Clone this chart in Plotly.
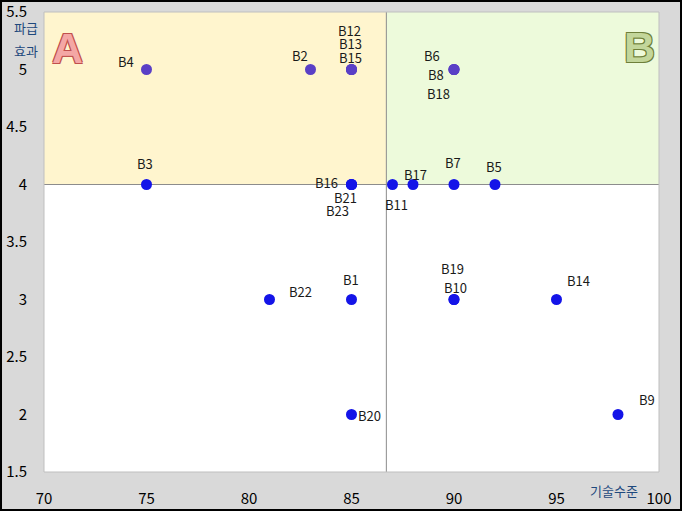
import plotly.graph_objects as go

# ---- data ----
labels = ["B1", "B2", "B3", "B4", "B5", "B6", "B7", "B8", "B9", "B10", "B11", "B12",
          "B13", "B14", "B15", "B16", "B17", "B18", "B19", "B20", "B21", "B22", "B23"]
tech_level = [85, 83, 75, 75, 92, 90, 90, 90, 98, 90, 87, 85,
              85, 95, 85, 85, 88, 90, 90, 85, 85, 81, 85]
impact = [3, 5, 4, 5, 4, 5, 4, 5, 2, 3, 4, 5,
          5, 3, 5, 4, 4, 5, 3, 2, 4, 3, 4]
x_ticks = [70, 75, 80, 85, 90, 95, 100]
y_ticks = [1.5, 2, 2.5, 3, 3.5, 4, 4.5, 5, 5.5]
x_split = 86.7
y_split = 4

# label pixel offsets (style only)
label_offsets = [(-1, -20), (-11, -14), (-2, -21), (-21, -8), (-1, -18), (-22, -14), (-1, -22),
                 (-18, 5), (29, -15), (1, -12), (4, 20), (-2, -39), (-1, -26), (22, -19),
                 (-1, -12), (-25, -2), (2, -10), (-16, 24), (-2, -31), (18, 1), (-6, 13),
                 (31, -8), (-14, 26)]

FONT = "Noto Sans CJK KR"
colors = ["#5A3FC6" if v > y_split else "#1414E8" for v in impact]

fig = go.Figure()
fig.add_trace(go.Scatter(
    x=tech_level, y=impact, mode="markers",
    marker=dict(size=11, color=colors, line=dict(width=0)),
    hoverinfo="text", text=labels, showlegend=False,
))

# quadrant shading
fig.add_shape(type="rect", x0=70, x1=x_split, y0=y_split, y1=5.5, layer="below",
              fillcolor="#FFF5CE", line=dict(width=0))
fig.add_shape(type="rect", x0=x_split, x1=100, y0=y_split, y1=5.5, layer="below",
              fillcolor="#EDFADB", line=dict(width=0))
fig.add_shape(type="line", x0=70, x1=100, y0=y_split, y1=y_split, layer="below",
              line=dict(color="#8C8C8C", width=1))
fig.add_shape(type="line", x0=x_split, x1=x_split, y0=1.5, y1=5.5, layer="below",
              line=dict(color="#8C8C8C", width=1))
# plot border
fig.add_shape(type="rect", xref="paper", yref="paper", x0=0, x1=1, y0=0, y1=1,
              line=dict(color="#BFBFBF", width=1))
# outer chart frame
fig.add_shape(type="rect", xref="paper", yref="paper",
              x0=-0.0699, x1=1.0358, y0=-0.0826, y1=1.0239,
              line=dict(color="#000000", width=2))

# point labels
for lab, xv, yv, (dx, dy) in zip(labels, tech_level, impact, label_offsets):
    fig.add_annotation(x=xv, y=yv, text=lab, showarrow=False,
                       xshift=dx, yshift=-dy,
                       font=dict(family=FONT, size=13, color="#1A1A1A"))

# quadrant letters
fig.add_annotation(x=71.17, y=5.19, text="<b>A</b>", showarrow=False,
                   font=dict(family="Liberation Sans", size=43, color="#F4A7A5",
                             shadow="1px 1px 0 #C0504D, -1px -1px 0 #C0504D, 1px -1px 0 #C0504D, -1px 1px 0 #C0504D"))
fig.add_annotation(x=99.07, y=5.2, text="<b>B</b>", showarrow=False,
                   font=dict(family="Liberation Sans", size=43, color="#C3D69B",
                             shadow="1px 1px 0 #6E7F3A, -1px -1px 0 #6E7F3A, 1px -1px 0 #6E7F3A, -1px 1px 0 #6E7F3A"))

# axis titles
fig.add_annotation(xref="paper", yref="paper", x=0, y=1, xshift=-18, yshift=-15,
                   xanchor="center", yanchor="middle",
                   text="파급", showarrow=False,
                   font=dict(family=FONT, size=13, color="#1F497D"))
fig.add_annotation(xref="paper", yref="paper", x=0, y=1, xshift=-18, yshift=-38,
                   xanchor="center", yanchor="middle",
                   text="효과", showarrow=False,
                   font=dict(family=FONT, size=13, color="#1F497D"))
fig.add_annotation(xref="paper", yref="paper", x=0.927, y=0, yshift=-18,
                   xanchor="center", yanchor="middle",
                   text="기술수준", showarrow=False,
                   font=dict(family=FONT, size=13, color="#1F497D"))

fig.update_xaxes(range=[70, 100], tickvals=x_ticks, ticktext=[str(t) for t in x_ticks],
                 showgrid=False, zeroline=False, showline=False, automargin=False,
                 ticks="outside", ticklen=13, tickcolor="rgba(0,0,0,0)",
                 tickfont=dict(family=FONT, size=15, color="#000000"))
fig.update_yaxes(range=[1.5, 5.5], tickvals=y_ticks, ticktext=[str(t) for t in y_ticks],
                 showgrid=False, zeroline=False, showline=False, automargin=False,
                 ticks="outside", ticklen=13, tickcolor="rgba(0,0,0,0)",
                 tickfont=dict(family=FONT, size=15, color="#000000"))

fig.update_layout(
    width=682, height=511,
    margin=dict(l=44, r=23, t=12, b=39, autoexpand=False),
    paper_bgcolor="#D9D9D9", plot_bgcolor="#FFFFFF",
    showlegend=False,
)

fig.write_html(
    "out.html",
    config={"displayModeBar": False},
    post_script="document.body.style.margin='0';document.body.style.overflow='hidden';",
)
